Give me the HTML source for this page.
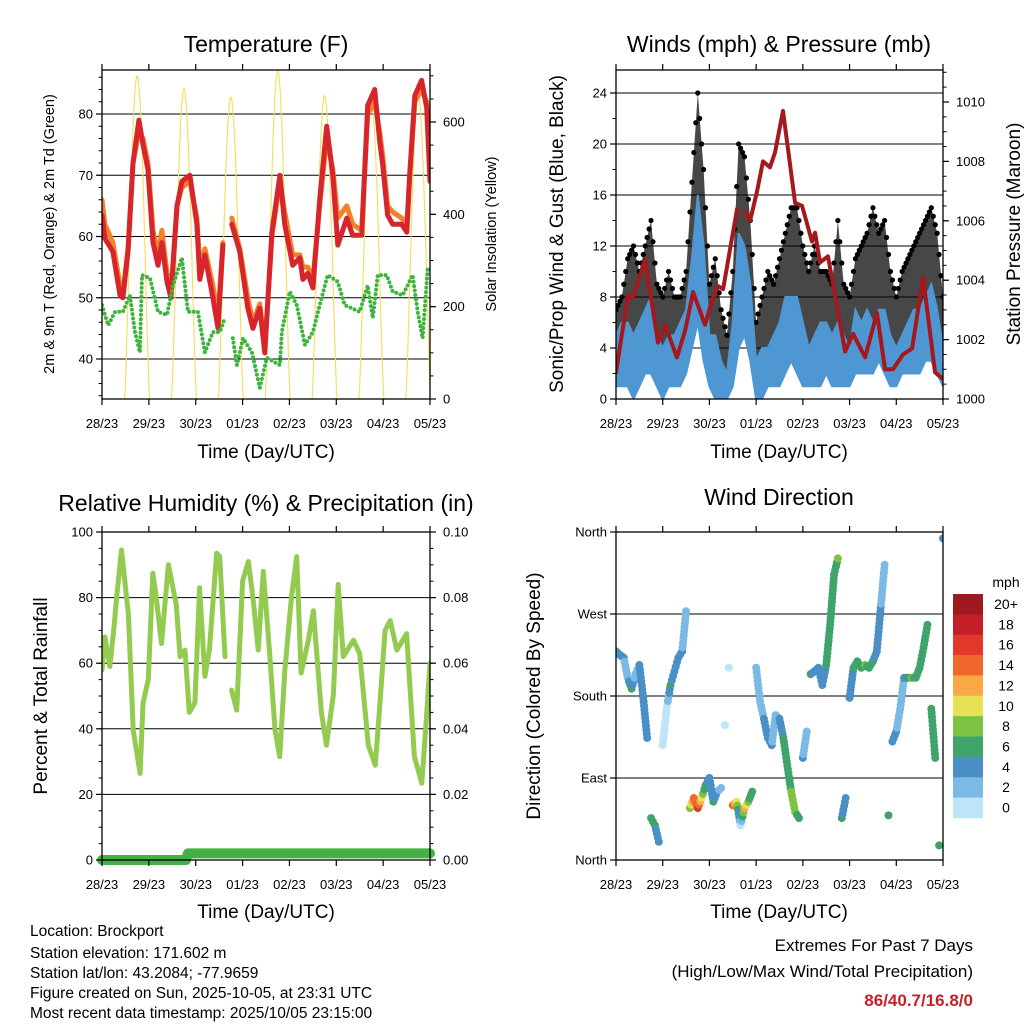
<!DOCTYPE html>
<html><head><meta charset="utf-8">
<style>
html,body{margin:0;padding:0;background:#fff;}
svg{display:block;font-family:"Liberation Sans","DejaVu Sans",sans-serif;}
</style></head>
<body>
<svg id="chart" width="1024" height="1024" viewBox="0 0 1024 1024" xmlns="http://www.w3.org/2000/svg">
<rect x="0" y="0" width="1024" height="1024" fill="#fff"/>
<text x="266" y="52" font-size="23" text-anchor="middle">Temperature (F)</text>
<text x="779" y="52" font-size="23" text-anchor="middle">Winds (mph) &amp; Pressure (mb)</text>
<text x="266" y="511" font-size="23" text-anchor="middle">Relative Humidity (%) &amp; Precipitation (in)</text>
<text x="779" y="505" font-size="23" text-anchor="middle">Wind Direction</text>
<text x="266" y="458" font-size="19" text-anchor="middle">Time (Day/UTC)</text>
<text x="779" y="458" font-size="19" text-anchor="middle">Time (Day/UTC)</text>
<text x="266" y="918" font-size="19" text-anchor="middle">Time (Day/UTC)</text>
<text x="779" y="918" font-size="19" text-anchor="middle">Time (Day/UTC)</text>
<text transform="translate(54,234) rotate(-90)" font-size="14.5" text-anchor="middle">2m &amp; 9m T (Red, Orange) &amp; 2m Td (Green)</text>
<text transform="translate(496,234) rotate(-90)" font-size="14.5" text-anchor="middle">Solar Insolation (Yellow)</text>
<text transform="translate(563,234) rotate(-90)" font-size="19" text-anchor="middle">Sonic/Prop Wind &amp; Gust (Blue, Black)</text>
<text transform="translate(1020,234) rotate(-90)" font-size="19" text-anchor="middle">Station Pressure (Maroon)</text>
<text transform="translate(47,696) rotate(-90)" font-size="19" text-anchor="middle">Percent &amp; Total Rainfall</text>
<text transform="translate(540,696) rotate(-90)" font-size="19" text-anchor="middle">Direction (Colored By Speed)</text>
<g font-size="15.5">
<text x="30" y="936">Location: Brockport</text>
<text x="30" y="958">Station elevation: 171.602 m</text>
<text x="30" y="978">Station lat/lon: 43.2084; -77.9659</text>
<text x="30" y="998">Figure created on Sun, 2025-10-05, at 23:31 UTC</text>
<text x="30" y="1018">Most recent data timestamp: 2025/10/05 23:15:00</text>
</g>
<g font-size="17" text-anchor="end">
<text x="973" y="951">Extremes For Past 7 Days</text>
<text x="973" y="977">(High/Low/Max Wind/Total Precipitation)</text>
<text x="973" y="1006" fill="#c8202a" font-weight="bold">86/40.7/16.8/0</text>
</g>
</svg>
<script>
const dayLabels = ["28/23","29/23","30/23","01/23","02/23","03/23","04/23","05/23"];
const tempTimes = [0,1.5,5.6,9.2,10.7,13.3,15.9,18.9,21,23.5,26.1,28.7,30.7,33.3,35.3,38.4,40.9,45,48.6,50.1,52.7,56.8,59.4,61.9,64,66.5,70.6,74.7,77.3,80.8,83.4,87,91.1,93.6,97.7,101.3,102.9,105.4,108,111.5,115.1,118.2,120.8,125.4,128.4,133,136.1,139.7,142.3,143.8,146.3,148.9,153.5,156.1,157.6,160.2,163.7,166.3,168];
const temp2m = [63.5,59.7,57.5,50.4,50,57.5,72,79,75,71,59,55.3,59,52.6,50,65,69,70,62,53,57,50,45,58.6,null,62,57.5,48.3,45,48.3,41,60.7,70,62,55.3,56.5,53,54,51.6,66,78,70,58.6,63,60.2,60.2,81.4,84,75.4,71.6,63.5,62,62,60.7,70,83,85.5,81,69];
const temp9m = [66,62,59,52,51,58,72,77,76,72,61,57,61,54,51,65,68,69,63,55,58,52,47,59,null,63,58,50,46,49,42,60,69,64,57,57,55,55,53,65,76,71,63,65,62,61,80,82,77,73,65,64,63,62,70,82,84,82,70];
const dewTimes = [0,3.1,6.7,10.7,14.3,16.9,19.4,20.5,24.6,28.7,33.3,36.3,40.9,44,49.1,52.7,56.8,60.4,62.9,64,67,69.1,72.2,76.8,80.8,84.4,91.1,92.1,96.2,99.8,103.9,108,111.5,115.6,120.8,124.3,132,136.1,138.7,141.2,145.8,148.9,154,159.1,161.7,164.2,166.8];
const dewPoint = [48.8,45.5,47.7,47.7,50.4,44.4,41.1,53.7,53.2,47.7,47.2,52,56.5,47.7,47.7,41.1,44.4,44.4,46.7,null,43.4,39,43.4,41.1,35.3,40.2,39,44.4,51,48.8,42.3,44.4,48.8,53.7,52.6,48.8,47.7,52,46.7,53.7,53.7,51,50.4,53.7,47.7,43.4,54.8];
const solarNoon = [18,42,66,90,114,138,162];
const solarPeak = [700,672,654,711,657,640,656];
const tempTicks = [40,50,60,70,80];
const solarTicks = [0,200,400,600];

const windTimes = [0,3,6,9,12,15,18,21,24,27,30,33,36,39,42,45,48,51,54,57,60,63,66,69,72,75,78,81,84,87,90,93,96,99,102,105,108,111,114,117,120,123,126,129,132,135,138,141,144,147,150,153,156,159,162,165,168];
const windLow = [1,1,1,0,1,2,2,1,0,1,1,1,2,4,6,3,1,0,0,0,1,4,5,3,0,0,1,1,1,2,3,2,1,1,1,1,2,1,1,1,1,2,2,2,2,3,2,1,1,2,2,2,2,3,3,2,1];
const windHigh = [5,6,6,5,6,7,8,5,4,5,5,6,7,11,16,12,5,5,3,2,6,13,12,9,3,4,4,5,6,8,8,8,6,4,5,6,6,5,6,5,4,7,6,7,6,7,7,5,4,5,6,7,7,8,9,7,4];
const windGust = [7,8,11,12,10,12,14,9,8,10,8,8,10,17,24,18,9,11,7,5,10,20,19,14,6,8,10,9,11,13,15,15,12,10,12,10,10,9,14,9,8,11,12,13,15,13,14,10,8,10,11,12,13,14,15,13,8];
const presTimes = [0,6.2,8.7,14.9,21.6,25.2,31.3,35.5,39.6,45.7,49.3,52.4,55,62.2,64,66.3,68.9,72.5,75.5,79.1,81.7,85.8,92,95.6,100.7,102.3,104.8,108.9,117.7,121.8,128,134.1,138.2,142.3,147.5,152.1,157.8,163.9,167.5];
const pressure = [1000.9,1003.5,1003.4,1004.7,1001.9,1002.5,1001.4,1002.3,1003.6,1002.5,1003.3,1003.8,1003.7,1006.4,null,1006.3,1006.0,1007.0,1008.0,1007.8,1008.3,1009.7,1006.6,1006.5,1005.3,1005.6,1004.6,1004.8,1001.6,1002.2,1001.4,1002.9,1001.0,1001.0,1001.5,1001.7,1004.1,1000.9,1000.7];
const windTicks = [0,4,8,12,16,20,24];
const presTicks = [1000,1002,1004,1006,1008,1010];

const rhTimes = [0,1.5,4,6,7.5,10,11.7,13.5,16,19.5,21,23.7,26,27.8,30.5,34,38,40,42.5,44.7,47.6,50,52.7,55,58.7,60.3,63,64.5,66.4,69,72,75,77.5,80,82.6,86,88.6,91,93.7,97,99.7,102,105.7,108.3,112.4,115,118.5,121,123.6,128.8,132,136.4,140,142.4,145,147.6,151,156,160,163.8,166,168];
const rhValues = [58,68,59,70,80,94.5,85,75,39.6,26.4,47.8,55,87.4,80,66,90,78,62,64,45,48,83,56,64,93.5,92.5,62,null,51.8,45.7,85,91,79,64,88,62,39.6,31.5,58,80,92.5,57,67,76,45,35,50.5,84,62,67,63,35,28.9,48,70,73,64,69,31.5,23.4,41.8,60];
const precipTimes = [0,43,44,168];
const precipValues = [0,0,0.002,0.002];
const rhTicks = [0,20,40,60,80,100];
const precipTicks = ["0.00","0.02","0.04","0.06","0.08","0.10"];

const dirHours = [0,2,4,6,8,10,12,14,16,18,20,22,24,26,28,30,32,34,36,38,40,42,44,46,48,50,52,54,56,58,60,62,64,66,68,70,72,74,76,78,80,82,84,86,88,90,92,94,96,98,100,102,104,106,108,110,112,114,116,118,120,122,124,126,128,130,132,134,136,138,140,142,144,146,148,150,152,154,156,158,160,162,164,166,168];
const dirValues = [229,225,222,200,188,204,214,178,134,46,38,20,126,166,192,207,222,229,273,57,68,57,68,82,90,64,75,79,148,211,60,64,38,57,64,75,211,174,155,134,126,159,155,134,104,75,53,46,112,141,204,207,211,192,214,258,313,331,46,68,178,211,218,211,214,211,218,229,277,324,49,130,141,166,200,200,200,200,211,233,258,166,112,16,353];
const dirSpeeds = [4,4,4,3,6,3,4,4,4,6,6,4,1,1,6,4,4,4,2,8,14,16,10,6,4,6,4,2,1,1,14,10,1,12,8,6,2,3,4,4,4,2,4,6,6,8,8,6,4,2,6,4,4,4,6,6,6,8,6,4,4,6,6,6,8,6,6,4,4,2,6,4,4,2,4,6,8,6,6,6,6,6,6,6,4];
const dirTickLabels = ["North","East","South","West","North"];
const dirTickValues = [0,90,180,270,360];
const speedBins = ["0","2","4","6","8","10","12","14","16","18","20+"];
const speedColors = ["#bde5f7","#7db9e5","#4a8fc6","#3fa36c","#7ec244","#e6e155","#f9a845","#f0672c","#e3362c","#c31f26","#9e1a1e"];

const NS = "http://www.w3.org/2000/svg";
const svg = document.getElementById("chart");
function mk(tag, attrs, parent){
  const e = document.createElementNS(NS, tag);
  for (const k in attrs) e.setAttribute(k, attrs[k]);
  (parent||svg).appendChild(e);
  return e;
}
function scale(d0,d1,r0,r1){ return v => r0 + (v-d0)/(d1-d0)*(r1-r0); }
function linePath(ts, vs, xs, ys){
  let d = "", pen = false;
  for (let i=0;i<ts.length;i++){
    if (vs[i]===null){ pen=false; continue; }
    d += (pen?"L":"M") + xs(ts[i]).toFixed(1) + "," + ys(vs[i]).toFixed(1);
    pen = true;
  }
  return d;
}
function makePanel(name, L, T, R, B){
  const g = mk("g", {});
  
  
  const clipId = name + "-clip";
  const cp = mk("clipPath", {id: clipId}, g);
  mk("rect", {x:L, y:T, width:R-L, height:B-T}, cp);
  const plot = mk("g", {"clip-path": "url(#"+clipId+")"}, g);
  
  
  return {g, plot, L, T, R, B};
}
function frame(p){
  const r = mk("rect", {x:p.L, y:p.T, width:p.R-p.L, height:p.B-p.T, fill:"none", stroke:"#000", "stroke-width":1.3}, p.g);
  
  
}
function xAxis(p, xs){
  for (let d=0; d<dayLabels.length; d++){
    const x = xs(d*24);
    mk("line", {x1:x, x2:x, y1:p.B, y2:p.B+6, stroke:"#000", "stroke-width":1.2}, p.g);
    mk("line", {x1:x, x2:x, y1:p.T, y2:p.T-6, stroke:"#000", "stroke-width":1.2}, p.g);
    const t = mk("text", {x:x, y:p.B+29, "font-size":13, "text-anchor":"middle"}, p.g);
    
    
    t.textContent = dayLabels[d];
  }
}
function gridY(p, vals, ys){
  vals.forEach(v => {
    const y = ys(v);
    if (y > p.T+1 && y < p.B-1){
      const l = mk("line", {x1:p.L, x2:p.R, y1:y, y2:y, stroke:"#000", "stroke-width":1}, p.plot);
      
      
    }
  });
}
function yTicks(p, vals, labels, ys, side, minorStep, dMin, dMax){
  const x0 = side==="left" ? p.L : p.R;
  const dir = side==="left" ? -1 : 1;
  vals.forEach((v,i) => {
    const y = ys(v);
    mk("line", {x1:x0, x2:x0+dir*6, y1:y, y2:y, stroke:"#000", "stroke-width":1.2}, p.g);
    const t = mk("text", {x: side==="left" ? p.L-9 : p.R+13, y:y+4.5, "font-size":13, "text-anchor": side==="left"?"end":"start"}, p.g);
    
    
    t.textContent = labels[i];
  });
  if (minorStep){
    for (let v=dMin; v<=dMax+1e-9; v+=minorStep){
      const y = ys(v);
      if (y < p.T || y > p.B) continue;
      mk("line", {x1:x0, x2:x0+dir*3.5, y1:y, y2:y, stroke:"#000", "stroke-width":1}, p.g);
    }
  }
}
function lerpArr(ts, vs, t){
  for (let i=0;i<ts.length-1;i++){
    if (t>=ts[i] && t<=ts[i+1]){
      const f = (t-ts[i])/(ts[i+1]-ts[i]);
      return vs[i] + f*(vs[i+1]-vs[i]);
    }
  }
  return vs[vs.length-1];
}

// Temperature
(function(){
  const p = makePanel("temperature-panel", 102, 70, 430, 399);
  const xs = scale(0,168,p.L,p.R);
  const ys = scale(40,80,359,114);
  const ss = scale(0,600,399,122);
  gridY(p, tempTicks, ys);
  for (let i=0;i<solarNoon.length;i++){
    let d = "";
    for (let k=0;k<=40;k++){
      const t = solarNoon[i] - 6.4 + k*12.8/40;
      const v = solarPeak[i]*Math.pow(Math.sin(Math.PI*k/40),1.3);
      d += (k?"L":"M") + xs(t).toFixed(1) + "," + ss(v).toFixed(1);
    }
    const s = mk("path", {d, fill:"none", stroke:"#f6dd55", "stroke-width":1.1}, p.plot);
    
    
  }
  const o = mk("path", {d: linePath(tempTimes,temp9m,xs,ys), fill:"none", stroke:"#f47f2c", "stroke-width":5, "stroke-linejoin":"round","stroke-linecap":"round"}, p.plot);
  
  
  const r = mk("path", {d: linePath(tempTimes,temp2m,xs,ys), fill:"none", stroke:"#d6262b", "stroke-width":5, "stroke-linejoin":"round","stroke-linecap":"round"}, p.plot);
  
  
  const gL = mk("path", {d: linePath(dewTimes,dewPoint,xs,ys), fill:"none", stroke:"#3db53d", "stroke-width":4, "stroke-dasharray":"0 4.5", "stroke-linecap":"round"}, p.plot);
  
  
  frame(p);
  xAxis(p, xs);
  yTicks(p, tempTicks, tempTicks.map(String), ys, "left", 2, 34, 86);
  yTicks(p, solarTicks, solarTicks.map(String), ss, "right", 50, 0, 700);
})();

// Winds
(function(){
  const p = makePanel("winds-panel", 616, 70, 943, 399);
  const xs = scale(0,168,p.L,p.R);
  const ys = scale(0,24,399,93);
  const ps = scale(1000,1010,399,102);
  gridY(p, windTicks, ys);
  let d = "";
  windTimes.forEach((t,i)=>{ d += (i?"L":"M") + xs(t).toFixed(1) + "," + ys(windGust[i]).toFixed(1); });
  for (let i=windTimes.length-1;i>=0;i--) d += "L" + xs(windTimes[i]).toFixed(1) + "," + ys(Math.max(0,windLow[i])).toFixed(1);
  const gb = mk("path", {d: d+"Z", fill:"#000", "fill-opacity":0.72}, p.plot);
  
  
  for (let t=0;t<=168;t+=1){
    const v = lerpArr(windTimes, windGust, t);
    const c = mk("circle", {cx:xs(t), cy:ys(v), r:2.6, fill:"#000"}, p.plot);
    
    
  }
  d = "";
  windTimes.forEach((t,i)=>{ d += (i?"L":"M") + xs(t).toFixed(1) + "," + ys(windHigh[i]).toFixed(1); });
  for (let i=windTimes.length-1;i>=0;i--) d += "L" + xs(windTimes[i]).toFixed(1) + "," + ys(windLow[i]).toFixed(1);
  const wb = mk("path", {d: d+"Z", fill:"#4f97d2", stroke:"#4f97d2", "stroke-width":2}, p.plot);
  
  
  const pl = mk("path", {d: linePath(presTimes,pressure,xs,ps), fill:"none", stroke:"#a3191d", "stroke-width":4, "stroke-linejoin":"round","stroke-linecap":"round"}, p.plot);
  
  
  frame(p);
  xAxis(p, xs);
  yTicks(p, windTicks, windTicks.map(String), ys, "left", 2, 0, 26);
  yTicks(p, presTicks, presTicks.map(String), ps, "right", 0.5, 1000, 1011);
})();

// RH
(function(){
  const p = makePanel("humidity-panel", 102, 532, 430, 860);
  const xs = scale(0,168,p.L,p.R);
  const ys = scale(0,100,860,532);
  const prs = scale(0,0.1,860,532);
  gridY(p, rhTicks, ys);
  const rl = mk("path", {d: linePath(rhTimes,rhValues,xs,ys), fill:"none", stroke:"#92cb4f", "stroke-width":5, "stroke-linejoin":"round","stroke-linecap":"round"}, p.plot);
  
  
  const pr = mk("path", {d: linePath(precipTimes,precipValues,xs,prs), fill:"none", stroke:"#45b045", "stroke-width":10, "stroke-linejoin":"round","stroke-linecap":"round"}, p.g);
  
  
  frame(p);
  xAxis(p, xs);
  yTicks(p, rhTicks, rhTicks.map(String), ys, "left", 5, 0, 100);
  yTicks(p, precipTicks.map(Number), precipTicks, prs, "right", 0.005, 0, 0.1);
})();

// Wind direction
(function(){
  const p = makePanel("wind-direction-panel", 616, 532, 943, 860);
  const xs = scale(0,168,p.L,p.R);
  const ys = scale(0,360,860,532);
  gridY(p, dirTickValues, ys);
  const colorFor = s => speedColors[Math.min(10, Math.max(0, Math.floor(s/2)))];
  for (let i=0;i<dirHours.length;i++){
    const c = mk("circle", {cx:xs(dirHours[i]), cy:ys(dirValues[i]), r:4, fill:colorFor(dirSpeeds[i])}, p.plot);
    
    
    if (i<dirHours.length-1 && Math.abs(dirValues[i+1]-dirValues[i])<=60){
      const n = Math.max(2, Math.round(Math.abs(ys(dirValues[i+1])-ys(dirValues[i]))/4));
      for (let k=1;k<n;k++){
        const f = k/n;
        const t = dirHours[i] + f*(dirHours[i+1]-dirHours[i]);
        const v = dirValues[i] + f*(dirValues[i+1]-dirValues[i]);
        const s = dirSpeeds[i] + f*(dirSpeeds[i+1]-dirSpeeds[i]);
        const cc = mk("circle", {cx:xs(t), cy:ys(v), r:4, fill:colorFor(s)}, p.plot);
        
        
      }
    }
  }
  frame(p);
  xAxis(p, xs);
  yTicks(p, dirTickValues, dirTickLabels, ys, "left", 0, 0, 0);
  const cb = mk("g", {});
  
  
  const top = 594, h = 20.36;
  for (let i=0;i<speedBins.length;i++){
    const j = speedBins.length-1-i;
    const rr = mk("rect", {x:953, y:top+i*h, width:30, height:h+0.3, fill:speedColors[j]}, cb);
    
    
    const t = mk("text", {x:1006, y:top+i*h+15, "font-size":14, "text-anchor":"middle"}, cb);
    
    
    t.textContent = speedBins[j];
  }
  const u = mk("text", {x:1006, y:587, "font-size":14, "text-anchor":"middle"}, cb);
  
  
  u.textContent = "mph";
})();
</script>
</body></html>
